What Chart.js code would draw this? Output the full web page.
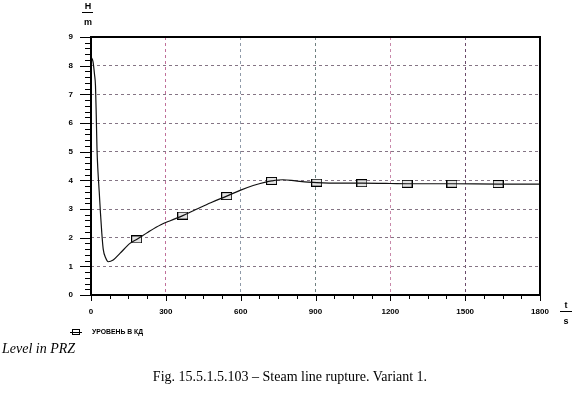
<!DOCTYPE html>
<html>
<head>
<meta charset="utf-8">
<script src="https://cdn.jsdelivr.net/npm/chart.js@4.4.0/dist/chart.umd.min.js"></script>
<style>
  html, body { margin: 0; padding: 0; background: #fff; }
  #wrap { position: relative; width: 580px; height: 393px; }
  #chart { position: absolute; left: 0; top: 0; }
  .note { position: absolute; font-family: 'Liberation Serif', 'DejaVu Serif', serif; color: #000; white-space: nowrap; }
  #sub { left: 2px; top: 341px; font-size: 14px; font-style: italic; }
  #cap { left: 0; width: 580px; text-align: center; top: 369px; font-size: 14px; }
</style>
</head>
<body>
<div id="wrap">
  <canvas id="chart" width="580" height="393"></canvas>
  <div class="note" id="sub">Level in PRZ</div>
  <div class="note" id="cap">Fig. 15.5.1.5.103 – Steam line rupture. Variant 1.</div>
</div>
<script>
  // Уровень в КД, время в секундах
  const curveTime = [0, 8, 14, 18, 21, 24, 28, 33, 38, 43, 49, 59, 69, 89, 116, 156, 183,
    230, 280, 320, 368, 420, 480, 544, 600, 650, 700, 724, 770, 820, 870, 905, 1000, 1086,
    1200, 1267, 1447, 1632, 1800];
  const curveLevel = [8.3, 8.14, 7.7, 7.3, 6.3, 5.1, 4.3, 3.6, 2.85, 2.2, 1.6, 1.29, 1.16, 1.22, 1.45, 1.8, 1.94,
    2.2, 2.45, 2.6, 2.77, 2.98, 3.22, 3.45, 3.66, 3.82, 3.94, 3.98, 4.02, 3.98, 3.94, 3.92, 3.9, 3.9,
    3.89, 3.88, 3.88, 3.87, 3.87];

  const markerTime = [183, 368, 544, 724, 905, 1086, 1267, 1447, 1632];
  const markerLevel = [1.94, 2.77, 3.45, 3.98, 3.92, 3.9, 3.88, 3.88, 3.87];

  const xTicks = [0, 300, 600, 900, 1200, 1500, 1800];
  const yTicks = [0, 1, 2, 3, 4, 5, 6, 7, 8, 9];
  const seriesName = 'УРОВЕНЬ В КД';

  // цвета вертикальной сетки (как в оригинале - разные оттенки)
  const xGridColors = ['#000', '#c0709a', '#8f9aa8', '#6f8080', '#c889aa', '#6a4a6a', '#000'];

  const tickFont = { family: 'Liberation Sans, Arial, sans-serif', size: 8, weight: 'bold' };

  // маркер - прямоугольник
  function makeMarker() {
    const c = document.createElement('canvas');
    c.width = 11; c.height = 8;
    const g = c.getContext('2d');
    g.fillStyle = '#e4e4e4';
    g.fillRect(1, 1, 9, 6);
    g.strokeStyle = '#000';
    g.lineWidth = 1;
    g.strokeRect(0.5, 0.5, 10, 7);
    return c;
  }
  const marker = makeMarker();

  // рамка, засечки, подписи осей, легенда
  const decor = {
    id: 'decor',
    afterDraw(chart) {
      const ctx = chart.ctx;
      const a = chart.chartArea;
      const xs = chart.scales.x, ys = chart.scales.y;
      ctx.save();
      ctx.strokeStyle = '#000';
      ctx.lineWidth = 2;
      ctx.strokeRect(a.left, a.top, a.right - a.left, a.bottom - a.top);

      ctx.lineWidth = 1;
      ctx.beginPath();
      for (let i = 0; i <= 45; i++) {
        const v = i * 0.2;
        const y = Math.round(ys.getPixelForValue(v)) + 0.5;
        const major = i % 5 === 0;
        ctx.moveTo(a.left - (major ? 11 : 6), y);
        ctx.lineTo(a.left, y);
      }
      for (let v = 0; v <= 1800; v += 75) {
        const x = Math.round(xs.getPixelForValue(v)) + 0.5;
        const major = v % 300 === 0;
        ctx.moveTo(x, a.bottom);
        ctx.lineTo(x, a.bottom + (major ? 6 : 4));
      }
      ctx.stroke();

      ctx.fillStyle = '#000';
      ctx.font = 'bold 9px Liberation Sans, Arial, sans-serif';
      ctx.textAlign = 'center';
      ctx.textBaseline = 'middle';
      ctx.fillText('H', 88, 7);
      ctx.fillText('m', 88, 23);
      ctx.fillText('t', 566, 306);
      ctx.fillText('s', 566, 322);
      ctx.beginPath();
      ctx.moveTo(82, 12.5); ctx.lineTo(93, 12.5);
      ctx.moveTo(560, 311.5); ctx.lineTo(572, 311.5);
      ctx.stroke();

      // легенда
      ctx.fillStyle = '#fff';
      ctx.fillRect(72.5, 329.5, 7, 5);
      ctx.strokeRect(72.5, 329.5, 7, 5);
      ctx.beginPath();
      ctx.moveTo(70, 332.5); ctx.lineTo(82, 332.5);
      ctx.stroke();
      ctx.fillStyle = '#000';
      ctx.textAlign = 'left';
      ctx.font = 'bold 8px Liberation Sans, Arial, sans-serif';
      ctx.fillText(seriesName, 92, 332, 51);
      ctx.restore();
    }
  };

  const ctx = document.getElementById('chart').getContext('2d');
  new Chart(ctx, {
    type: 'scatter',
    data: {
      datasets: [{
        label: seriesName,
        data: curveTime.map((t, i) => ({ x: t, y: curveLevel[i] })),
        showLine: true,
        borderColor: '#111',
        borderWidth: 1.2,
        pointRadius: 0,
        cubicInterpolationMode: 'monotone'
      }, {
        label: seriesName + ' (маркеры)',
        data: markerTime.map((t, i) => ({ x: t, y: markerLevel[i] })),
        showLine: false,
        pointStyle: marker,
        pointRadius: 5
      }]
    },
    options: {
      responsive: false,
      animation: false,
      layout: { padding: { top: 37, right: 40, left: 0, bottom: 0 } },
      plugins: { legend: { display: false }, tooltip: { enabled: false } },
      scales: {
        x: {
          type: 'linear',
          min: 0, max: 1800,
          afterFit(s) { s.height = 98; },
          afterBuildTicks(s) { s.ticks = xTicks.map(v => ({ value: v })); },
          border: { display: false, dash: [3, 3] },
          grid: {
            color: c => xGridColors[c.index] || '#8a7a8e',
            lineWidth: 1, drawTicks: false
          },
          ticks: { font: tickFont, color: '#000', padding: 12, maxRotation: 0, callback: v => String(v) }
        },
        y: {
          min: 0, max: 9,
          afterFit(s) { s.width = 91; },
          afterBuildTicks(s) { s.ticks = yTicks.map(v => ({ value: v })); },
          border: { display: false, dash: [3, 3] },
          grid: { color: '#857585', lineWidth: 1, drawTicks: false },
          ticks: { font: tickFont, color: '#000', padding: 18, callback: v => String(v) }
        }
      }
    },
    plugins: [decor]
  });
</script>
</body>
</html>
